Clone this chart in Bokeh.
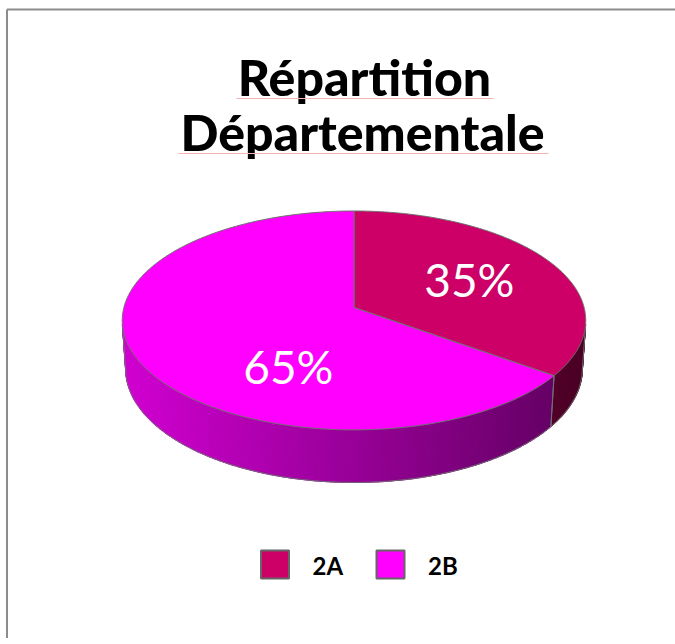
import numpy as np
from bokeh.plotting import figure
from bokeh.models import Range1d
from bokeh.core.properties import value
from bokeh.embed import file_html
from bokeh.resources import INLINE

# ---------------- data ----------------
title_lines = ["Répartition", "Départementale"]
categories = ["2A", "2B"]
values = [35, 65]
colors = ["#CC0066", "#FF00FF"]

# ---------------- layout ----------------
W, H = 675, 638
p = figure(width=W, height=H, x_range=Range1d(0, W), y_range=Range1d(H, 0),
           output_backend="svg", toolbar_location=None, min_border=0)
p.axis.visible = False
p.grid.visible = False
p.outline_line_color = None
p.background_fill_color = "white"
p.border_fill_color = "white"

# perspective projection of a flat cylinder
CX, CY = 353.5, 307.0
F, D = 1719.0, 7.47
S = 0.469
C = np.sqrt(1 - S * S)
THICK = 0.241
EDGE = "#707070"


def proj(X, Y, Z):
    d = D - Y * S - Z * C
    return CX + F * X / d, CY + F * (Z * S - Y * C) / d


def top_pt(t, r=1.0, y=0.0):
    return proj(r * np.sin(t), y, -r * np.cos(t))


total = float(sum(values))
fr = np.array(values, dtype=float) / total
ends = np.cumsum(fr) * 2 * np.pi
starts = ends - fr * 2 * np.pi

zvis = 1.0 / (D * C)
tmin = np.arccos(-zvis)
tmax = 2 * np.pi - tmin
xl, _ = top_pt(tmax)
xr, _ = top_pt(tmin)


def hex2rgb(h):
    h = h.lstrip("#")
    return [int(h[i:i + 2], 16) for i in (0, 2, 4)]


def shade(col, k):
    r, g, b = hex2rgb(col)
    return "#%02x%02x%02x" % (int(r * k), int(g * k), int(b * k))


# side strips
sx_list, sy_list, sc_list = [], [], []
for i in range(len(values)):
    a = max(starts[i], tmin)
    b = min(ends[i], tmax)
    if a >= b:
        continue
    n = max(2, int((b - a) / np.radians(0.5)))
    ts = np.linspace(a, b, n + 1)
    for j in range(n):
        t0, t1 = ts[j], ts[j + 1]
        x0, y0 = top_pt(t0)
        x1, y1 = top_pt(t1)
        x2, y2 = top_pt(t1, y=-THICK)
        x3, y3 = top_pt(t0, y=-THICK)
        sx_list.append([x0, x1, x2, x3])
        sy_list.append([y0, y1, y2, y3])
        tt = ((x0 + x1) / 2 - xl) / (xr - xl)
        k = 0.82 + (0.37 - 0.82) * tt
        sc_list.append(shade(colors[i], k))
p.patches(xs=sx_list, ys=sy_list, fill_color=sc_list, line_color=sc_list, line_width=1.2)

# side outlines
ol_x, ol_y = [], []
tb = np.linspace(tmin, tmax, 400)
bx, by = top_pt(tb, y=-THICK)
ol_x.append(list(bx)); ol_y.append(list(by))
edges = [tmin, tmax] + [e for e in list(starts) + list(ends) if tmin < e < tmax]
for e in edges:
    ax_, ay_ = top_pt(e)
    bx_, by_ = top_pt(e, y=-THICK)
    ol_x.append([ax_, bx_]); ol_y.append([ay_, by_])
p.multi_line(xs=ol_x, ys=ol_y, line_color=EDGE, line_width=1)

# top faces
tx_list, ty_list = [], []
for i in range(len(values)):
    ts = np.linspace(starts[i], ends[i], 300)
    ax_, ay_ = top_pt(ts)
    cx0, cy0 = proj(0, 0, 0)
    tx_list.append([cx0] + list(ax_))
    ty_list.append([cy0] + list(ay_))
p.patches(xs=tx_list, ys=ty_list, fill_color=colors, line_color=EDGE, line_width=1)

# percentage labels
label_r = 0.58
label_shift_deg = [0.0, -35.5]
lx, ly, lt = [], [], []
for i in range(len(values)):
    m = (starts[i] + ends[i]) / 2 + np.radians(label_shift_deg[i])
    x_, y_ = top_pt(m, r=label_r)
    lx.append(x_); ly.append(y_)
    lt.append("%d%%" % round(values[i] / total * 100))
p.text(x=lx, y=ly, text=lt, text_align="center", text_baseline="middle",
       text_color="white", text_font=value("Lato"), text_font_size="46px")

# title
p.text(x=[364, 362], y=[76, 131], text=title_lines, text_align="center",
       text_baseline="alphabetic", text_color="black", text_font=value("Lato Black"),
       text_font_size="50px")
p.segment(x0=[236, 178], y0=[98, 153], x1=[493, 548], y1=[98, 153],
          line_color="#F4B4B4", line_width=1)

# legend
leg_x = [274.5, 390.0]
leg_y = 564
p.rect(x=leg_x, y=[leg_y] * len(categories), width=28, height=28,
       fill_color=colors, line_color="#666666", line_width=2)
p.text(x=[v + 37.5 for v in leg_x], y=[leg_y + 1] * len(categories), text=categories,
       text_align="left", text_baseline="alphabetic", text_color="black",
       text_font=value("Lato"), text_font_style="bold", text_font_size="24px")

# white band on the far right, then the chart border (left and top edges only)
p.quad(left=[650], right=[W + 10], top=[-5], bottom=[H + 10], fill_color="white",
       line_color=None)
p.segment(x0=[6.5, 6.5], y0=[H + 50, 9], x1=[6.5, W + 50], y1=[9, 9],
          line_color="#8c8c8c", line_width=2)

open("out.html", "w").write(file_html(p, INLINE))
